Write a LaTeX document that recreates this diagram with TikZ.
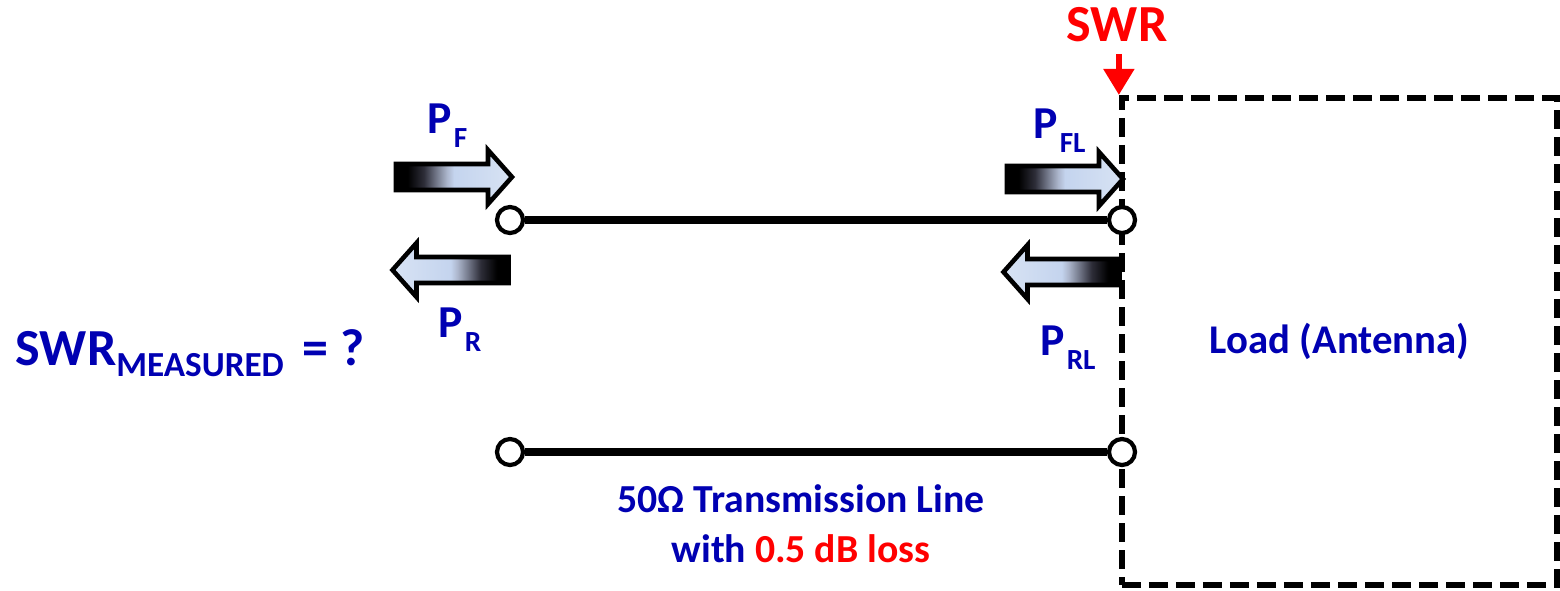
\documentclass[tikz,border=0pt]{standalone}
\usepackage{fontspec}
\setmainfont{Carlito}
\usetikzlibrary{arrows.meta}
\definecolor{tblue}{RGB}{0,0,178}
\definecolor{tred}{RGB}{255,0,0}
\definecolor{lightb}{RGB}{196,212,238}
\definecolor{lightbb}{RGB}{216,227,244}
\definecolor{darkg}{RGB}{45,45,56}
\definecolor{midg}{RGB}{110,115,132}
\definecolor{paleg}{RGB}{172,182,204}
\pgfdeclarehorizontalshading{pfwd}{100bp}{color(0bp)=(black); color(25bp)=(black); color(30bp)=(black); color(37bp)=(darkg); color(42bp)=(midg); color(47bp)=(paleg); color(50bp)=(lightb); color(75bp)=(lightbb); color(100bp)=(lightbb)}
\pgfdeclarehorizontalshading{pbwd}{100bp}{color(0bp)=(lightbb); color(25bp)=(lightbb); color(50bp)=(lightb); color(53bp)=(paleg); color(58bp)=(midg); color(63bp)=(darkg); color(70bp)=(black); color(75bp)=(black); color(100bp)=(black)}
\newcommand\psubx[2]{#1\kern0.5pt\raisebox{-4pt}{\fontsize{8.3pt}{9pt}\selectfont #2}}
\begin{document}
\begin{tikzpicture}[x=0.01cm,y=-0.01cm,
  wire/.style={line width=2pt},
  term/.style={circle,draw,fill=white,line width=1.2pt,minimum size=0.26cm,inner sep=0pt},
  loadbox/.style={draw,line width=1.7pt,dash pattern=on 0.19cm off 0.08cm,minimum width=4.35cm,minimum height=4.87cm,text=tblue,font=\fontsize{11.6pt}{14pt}\selectfont\bfseries},
  powtxt/.style={text=tblue,inner sep=0pt,anchor=base west,font=\fontsize{13pt}{15pt}\selectfont\bfseries},
  bigtxt/.style={inner sep=0pt,font=\fontsize{14.8pt}{17pt}\selectfont\bfseries},
  linetxt/.style={text=tblue,inner sep=0pt,anchor=base,font=\fontsize{11.3pt}{14pt}\selectfont\bfseries},
  swrarrow/.style={tred,line width=1.5pt,dash pattern=on 0.17cm off 0.05cm,shorten <=0.11cm,-{Triangle[width=0.3cm,length=0.26cm]}},
  fwdarrow/.pic={\shadedraw[shading=pfwd,draw=black,line width=1.3pt] (-58,-13) -- (34,-13) -- (34,-27) -- (58,0) -- (34,27) -- (34,13) -- (-58,13) -- cycle;},
  bwdarrow/.pic={\shadedraw[shading=pbwd,draw=black,line width=1.3pt] (58,-13) -- (-34,-13) -- (-34,-27) -- (-58,0) -- (-34,27) -- (-34,13) -- (58,13) -- cycle;}
]
\useasboundingbox (0,0) rectangle (1560,590);

% load box
\node[loadbox] (load) at (1339.5,341.5) {Load (Antenna)};

% SWR marker
\node[bigtxt,text=tred] (swr) at (1117,25) {SWR};
\draw[swrarrow] (swr.south -| load.north west) -- (load.north west);

% terminals and line
\node[term] (lt) at (510,220) {};
\node[term] (lb) at (510,452) {};
\node[term] (rt) at (1122,220) {};
\node[term] (rb) at (1122,452) {};
\draw[wire] (lt) -- (rt);
\draw[wire] (lb) -- (rb);

% power arrows
\pic at (454,177) {fwdarrow};
\pic at (450.5,270) {bwdarrow};
\pic at (1065,179) {fwdarrow};
\pic at (1061.5,272) {bwdarrow};

% labels
\node[powtxt] (pf) at (427,133) {\psubx{P}{F}};
\node[powtxt] (pr) at (438,337) {\psubx{P}{R}};
\node[powtxt] (pfl) at (1033,138) {\psubx{P}{FL}};
\node[powtxt] (prl) at (1040,355) {\psubx{P}{RL}};
\node[bigtxt,text=tblue,anchor=base west] (swrm) at (15,365) {SWR\raisebox{-3.4pt}{\fontsize{10pt}{11pt}\selectfont MEASURED}\kern2pt{} = ?};
\node[linetxt] (tl1) at (801,512) {50Ω Transmission Line};
\node[linetxt] (tl2) at (801,562) {with \textcolor{tred}{0.5 dB loss}};
\end{tikzpicture}
\end{document}
